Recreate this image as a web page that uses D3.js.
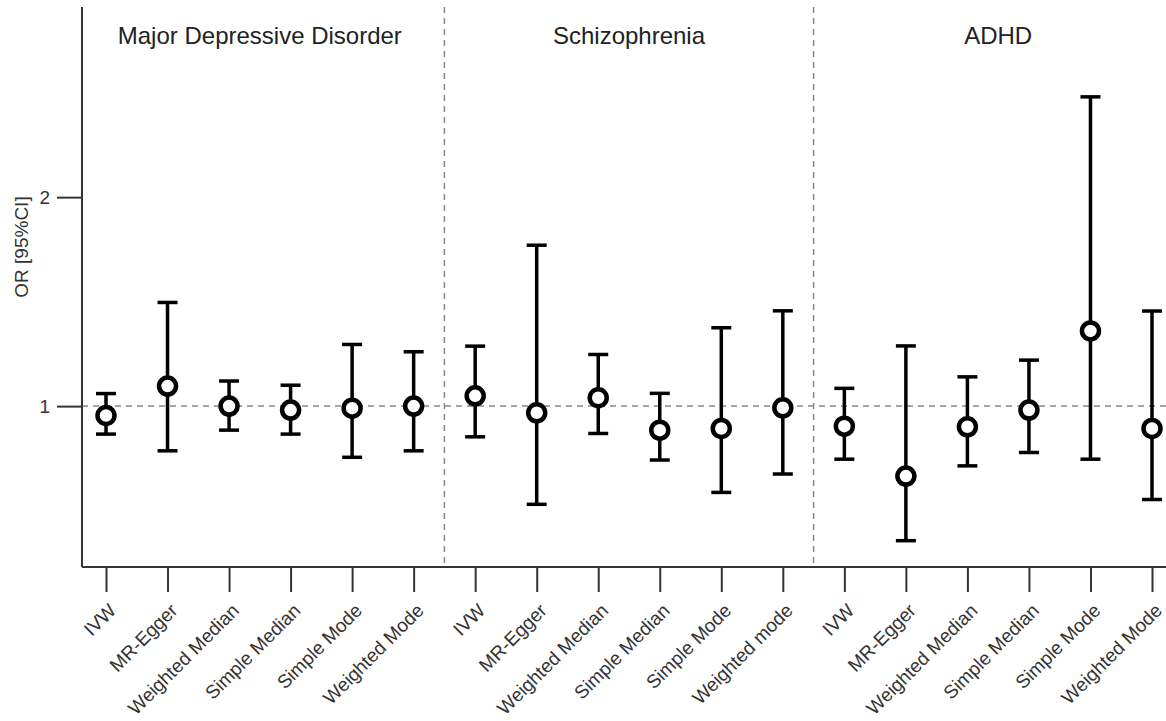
<!DOCTYPE html>
<meta charset='utf-8'>
<style>
  body { margin: 0; background: #fff; font-family: 'Liberation Sans', Arial, sans-serif; }
  .axis path, .axis line { stroke: #333; stroke-width: 2; fill: none; }
  .axis text { fill: #333; font-size: 19px; font-family: 'Liberation Sans', Arial, sans-serif; }
  .ref { stroke: #888; stroke-width: 1.5; stroke-dasharray: 6 5; fill: none; }
  .bar { stroke: #000; stroke-width: 3.5; fill: none; }
  .pt { stroke: #000; stroke-width: 4.5; fill: #fff; }
  .title { font-size: 24px; fill: #222; text-anchor: middle; }
</style>
<body>
<script src='https://d3js.org/d3.v7.min.js'></script>
<script>
  // groups and their method labels
  const groups = ['Major Depressive Disorder', 'Schizophrenia', 'ADHD']
  const methodsMDD = ['IVW', 'MR-Egger', 'Weighted Median', 'Simple Median', 'Simple Mode', 'Weighted Mode']
  const methodsSCZ = ['IVW', 'MR-Egger', 'Weighted Median', 'Simple Median', 'Simple Mode', 'Weighted mode']
  const methodsADHD = ['IVW', 'MR-Egger', 'Weighted Median', 'Simple Median', 'Simple Mode', 'Weighted Mode']

  // odds ratios with 95% CI
  const mddOR = [0.955, 1.096, 1.000, 0.981, 0.990, 1.000]
  const mddLo = [0.866, 0.786, 0.885, 0.866, 0.755, 0.786]
  const mddHi = [1.060, 1.496, 1.120, 1.100, 1.295, 1.260]

  const sczOR = [1.049, 0.968, 1.040, 0.885, 0.893, 0.992]
  const sczLo = [0.853, 0.530, 0.869, 0.742, 0.587, 0.675]
  const sczHi = [1.287, 1.770, 1.247, 1.061, 1.375, 1.456]

  const adhdOR = [0.904, 0.665, 0.901, 0.981, 1.360, 0.893]
  const adhdLo = [0.746, 0.356, 0.714, 0.778, 0.746, 0.553]
  const adhdHi = [1.085, 1.288, 1.140, 1.220, 2.480, 1.455]

  const yTicks = [1, 2]

  const sets = [
    {name: groups[0], methods: methodsMDD, or: mddOR, lo: mddLo, hi: mddHi},
    {name: groups[1], methods: methodsSCZ, or: sczOR, lo: sczLo, hi: sczHi},
    {name: groups[2], methods: methodsADHD, or: adhdOR, lo: adhdLo, hi: adhdHi}
  ]

  const rows = []
  sets.forEach((s, g) => {
    s.methods.forEach((m, i) => {
      rows.push({key: g + '|' + m, group: g, method: m, or: s.or[i], lo: s.lo[i], hi: s.hi[i]})
    })
  })

  const W = 1166, H = 721
  const pLeft = 82, pRight = 1166, pTop = 7, pBottom = 567

  const svg = d3.select('body').append('svg')
    .attr('width', W)
    .attr('height', H)

  const x = d3.scalePoint()
    .domain(rows.map(d => d.key))
    .range([106, 1152])

  const y = d3.scaleLinear()
    .domain([0.23, 2.91])
    .range([pBottom, pTop])

  // reference line at OR = 1
  svg.append('line')
    .attr('class', 'ref')
    .attr('x1', pLeft).attr('x2', pRight)
    .attr('y1', y(1)).attr('y2', y(1))

  // group dividers
  const step = x.step()
  sets.slice(1).forEach((s, g) => {
    const k = rows.find(d => d.group === g + 1).key
    const xd = x(k) - step / 2
    svg.append('line')
      .attr('class', 'ref')
      .attr('x1', xd).attr('x2', xd)
      .attr('y1', pTop).attr('y2', pBottom)
  })

  // group titles
  sets.forEach((s, g) => {
    const ks = rows.filter(d => d.group === g).map(d => x(d.key))
    svg.append('text')
      .attr('class', 'title')
      .attr('x', d3.mean(ks))
      .attr('y', 44)
      .text(s.name)
  })

  // axes
  const xAxis = d3.axisBottom(x).tickSize(25).tickFormat(k => k.split('|')[1])
  const gx = svg.append('g')
    .attr('class', 'x axis')
    .attr('transform', `translate(0, ${pBottom})`)
    .call(xAxis)
  gx.select('.domain').remove()
  gx.append('line')
    .attr('x1', pLeft).attr('x2', pRight)
    .attr('y1', 0).attr('y2', 0)
    .attr('stroke', '#333').attr('stroke-width', 2)
  gx.selectAll('.tick text')
    .attr('text-anchor', 'end')
    .attr('dy', '0.35em')
    .attr('y', 0)
    .attr('transform', 'translate(6, 40) rotate(-45)')

  const yAxis = d3.axisLeft(y).tickValues(yTicks).tickSize(25).tickPadding(7).tickFormat(d3.format('d'))
  const gy = svg.append('g')
    .attr('class', 'y axis')
    .attr('transform', `translate(${pLeft}, 0)`)
    .call(yAxis)
  gy.select('.domain').attr('d', `M0,${pTop}V${pBottom}`)

  svg.append('text')
    .attr('transform', `translate(21, 247) rotate(-90)`)
    .attr('text-anchor', 'middle')
    .attr('dy', '0.35em')
    .attr('fill', '#333')
    .style('font-size', '19px')
    .text('OR [95%CI]')

  // error bars
  const cap = 10
  const eb = svg.append('g').selectAll('g').data(rows).join('g')
  eb.append('line').attr('class', 'bar')
    .attr('x1', d => x(d.key)).attr('x2', d => x(d.key))
    .attr('y1', d => y(d.lo)).attr('y2', d => y(d.hi))
  eb.append('line').attr('class', 'bar')
    .attr('x1', d => x(d.key) - cap).attr('x2', d => x(d.key) + cap)
    .attr('y1', d => y(d.hi)).attr('y2', d => y(d.hi))
  eb.append('line').attr('class', 'bar')
    .attr('x1', d => x(d.key) - cap).attr('x2', d => x(d.key) + cap)
    .attr('y1', d => y(d.lo)).attr('y2', d => y(d.lo))
  eb.append('circle').attr('class', 'pt')
    .attr('cx', d => x(d.key))
    .attr('cy', d => y(d.or))
    .attr('r', 8.5)
</script>
</body>
